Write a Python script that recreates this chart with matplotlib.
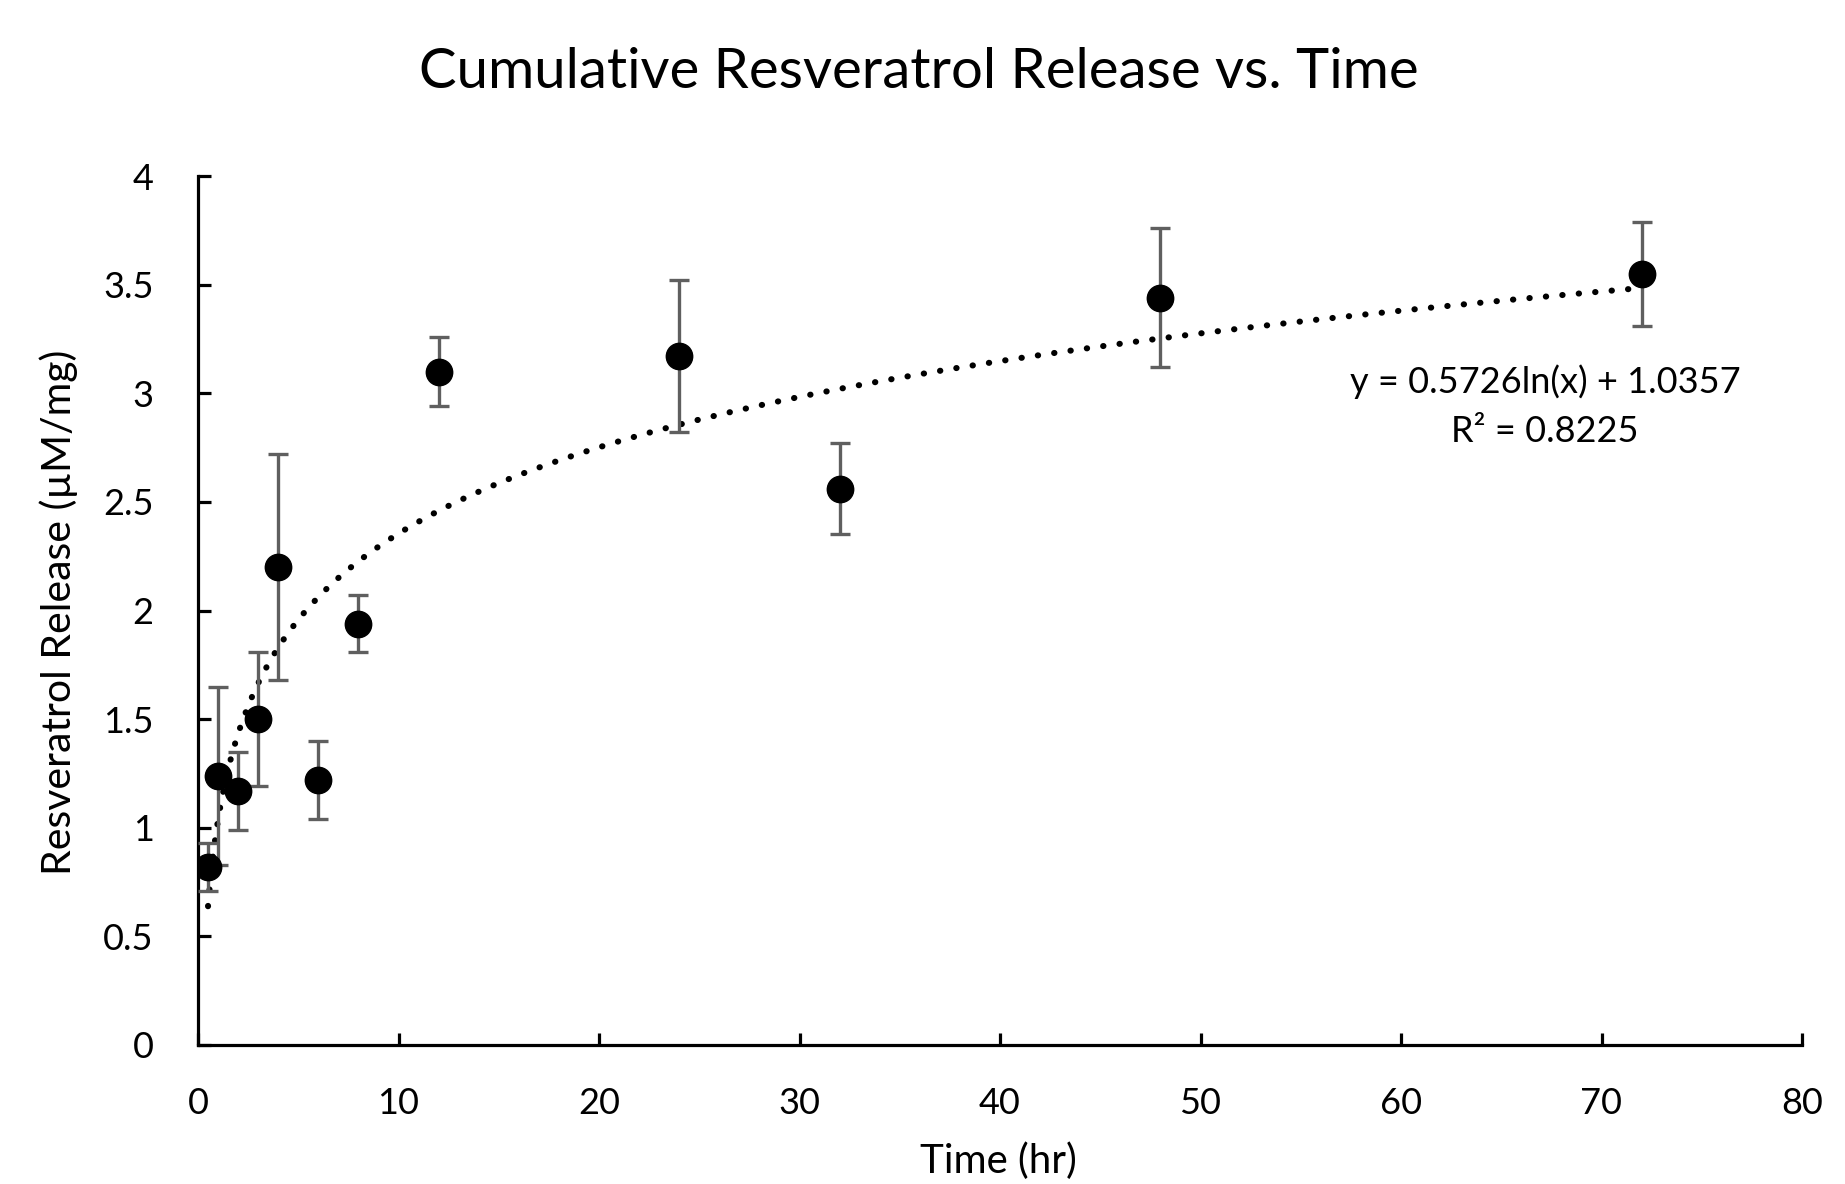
import numpy as np
import matplotlib
matplotlib.use("Agg")
import matplotlib.pyplot as plt

# Data
time_hr = [0.5, 1, 2, 3, 4, 6, 8, 12, 24, 32, 48, 72]
release = [0.82, 1.24, 1.17, 1.50, 2.20, 1.22, 1.94, 3.10, 3.17, 2.56, 3.44, 3.55]
err = [0.11, 0.41, 0.18, 0.31, 0.52, 0.18, 0.13, 0.16, 0.35, 0.21, 0.32, 0.24]
fit_a = 0.5726
fit_b = 1.0357
r2 = 0.8225
x_ticks = [0, 10, 20, 30, 40, 50, 60, 70, 80]
y_ticks = [0, 0.5, 1, 1.5, 2, 2.5, 3, 3.5, 4]
y_tick_labels = ["0", "0.5", "1", "1.5", "2", "2.5", "3", "3.5", "4"]

plt.rcParams['font.family'] = ['Lato', 'DejaVu Sans']

W, H = 1845, 1184
fig = plt.figure(figsize=(W / 100, H / 100), dpi=100)
ax = fig.add_axes([198 / W, 1 - 1045 / H, (1802 - 198) / W, (1045 - 176) / H])

# trend line
xf = np.linspace(min(time_hr), max(time_hr), 600)
yf = fit_a * np.log(xf) + fit_b
ax.plot(xf, yf, color='black', linewidth=4.4, linestyle=(0, (0.05, 2.65)),
        dash_capstyle='round', zorder=2)

ax.errorbar(time_hr, release, yerr=err, fmt='o', color='black', markersize=19,
            ecolor='#5f5f5f', elinewidth=2.4, capsize=7, capthick=2.4, zorder=3)

ax.set_xlim(0, 80)
ax.set_ylim(0, 4)
ax.set_xticks(x_ticks)
ax.set_yticks(y_ticks)
ax.set_yticklabels(y_tick_labels)
ax.spines['top'].set_visible(False)
ax.spines['right'].set_visible(False)
for s in ('left', 'bottom'):
    ax.spines[s].set_linewidth(2.3)
ax.tick_params(axis='both', direction='in', length=9, width=2.3,
               labelsize=26, colors='black')
ax.tick_params(axis='x', pad=30)
ax.tick_params(axis='y', pad=32)

fig.text(998 / W, 1 - 1161 / H, 'Time (hr)', ha='center', va='center', fontsize=29)
fig.text(59 / W, 1 - 612 / H, 'Resveratrol Release (µM/mg)', ha='center', va='center',
         rotation=90, fontsize=29.5)

fig.text(919 / W, 1 - 72 / H, 'Cumulative Resveratrol Release vs. Time',
         ha='center', va='center', fontsize=40.5)

fig.text(1545 / W, 1 - 382 / H, f'y = {fit_a}ln(x) + {fit_b}',
         ha='center', va='center', fontsize=26)
fig.text(1545 / W, 1 - 431 / H, f'R² = {r2}',
         ha='center', va='center', fontsize=26)

fig.savefig('out.png', dpi=100)
